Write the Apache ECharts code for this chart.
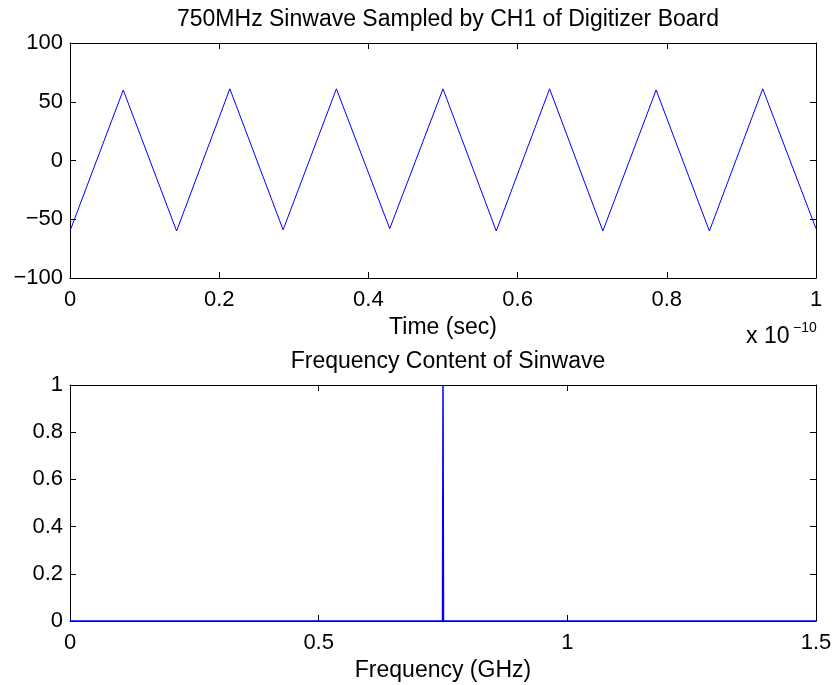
<!DOCTYPE html>
<html>
<head>
<meta charset="utf-8">
<title>750MHz Sinwave</title>
<script src="https://cdn.jsdelivr.net/npm/echarts@6/dist/echarts.min.js"></script>
<style>
    html, body { margin: 0; padding: 0; background: #fff; }
    #main { width: 836px; height: 685px; }
</style>
</head>
<body>
<div id="main"></div>
<script>
// time axis in units of 1e-10 sec
var timeData = [0, 0.0714, 0.1429, 0.2143, 0.2857, 0.3571, 0.4286, 0.5, 0.5714, 0.6429, 0.7143, 0.7857, 0.8571, 0.9286, 1.0];
var sampleData = [-60, 60, -60, 61, -59, 61, -58, 61, -60, 61, -60, 60, -60, 61, -58];
// frequency in GHz, normalized magnitude
var freqData = [0, 0.749, 0.75, 0.751, 1.5];
var magData = [0, 0, 1, 0, 0];

var titles = ['750MHz Sinwave Sampled by CH1 of Digitizer Board', 'Frequency Content of Sinwave'];
var xNames = ['Time (sec)', 'Frequency (GHz)'];

var FONT = '"Liberation Sans", Arial, Helvetica, sans-serif';

function pairs(xs, ys) {
    var out = [];
    for (let i = 0; i < xs.length; i++) {
        out.push([xs[i], ys[i]]);
    }
    return out;
}

function minusFmt(v) {
    return String(v).replace('-', '\u2212');
}

function boxAxis(opt) {
    // matlab style axis: black line, ticks inside, no grid
    var base = {
        type: 'value',
        axisLine: { show: true, onZero: false, lineStyle: { color: '#000', width: 1 } },
        axisTick: { show: true, inside: true, length: 6, lineStyle: { color: '#000', width: 1 } },
        axisLabel: {
            show: true,
            color: '#000',
            fontSize: 22,
            fontFamily: FONT,
            showMinLabel: true,
            showMaxLabel: true,
            hideOverlap: false,
            formatter: minusFmt
        },
        splitLine: { show: false }
    };
    return Object.assign(base, opt);
}

function hiddenLabel() {
    return { show: false };
}

function returnOption() {
    return {
        backgroundColor: '#fff',
        animation: false,
        title: [{
            text: titles[0],
            left: 443,
            top: 3,
            textAlign: 'center',
            textStyle: { color: '#000', fontSize: 23, fontWeight: 'normal', fontFamily: FONT }
        }, {
            text: titles[1],
            left: 443,
            top: 345,
            textAlign: 'center',
            textStyle: { color: '#000', fontSize: 23, fontWeight: 'normal', fontFamily: FONT }
        }],
        grid: [
            { left: 70, right: 20, top: 43, height: 235 },
            { left: 70, right: 20, top: 385, height: 236 }
        ],
        xAxis: [
            boxAxis({
                gridIndex: 0, position: 'bottom', min: 0, max: 1, interval: 0.2,
                name: xNames[0], nameLocation: 'middle', nameGap: 38,
                nameTextStyle: { color: '#000', fontSize: 23, fontFamily: FONT },
                axisLabel: Object.assign(boxAxis({}).axisLabel, { margin: 11 })
            }),
            boxAxis({ gridIndex: 0, position: 'top', min: 0, max: 1, interval: 0.2, axisLabel: hiddenLabel() }),
            boxAxis({
                gridIndex: 1, position: 'bottom', min: 0, max: 1.5, interval: 0.5,
                name: xNames[1], nameLocation: 'middle', nameGap: 38,
                nameTextStyle: { color: '#000', fontSize: 23, fontFamily: FONT },
                axisLabel: Object.assign(boxAxis({}).axisLabel, { margin: 11 })
            }),
            boxAxis({ gridIndex: 1, position: 'top', min: 0, max: 1.5, interval: 0.5, axisLabel: hiddenLabel() })
        ],
        yAxis: [
            boxAxis({
                gridIndex: 0, position: 'left', min: -100, max: 100, interval: 50,
                axisLabel: Object.assign(boxAxis({}).axisLabel, { margin: 7 })
            }),
            boxAxis({ gridIndex: 0, position: 'right', min: -100, max: 100, interval: 50, axisLabel: hiddenLabel() }),
            boxAxis({
                gridIndex: 1, position: 'left', min: 0, max: 1, interval: 0.2,
                axisLabel: Object.assign(boxAxis({}).axisLabel, { margin: 7 })
            }),
            boxAxis({ gridIndex: 1, position: 'right', min: 0, max: 1, interval: 0.2, axisLabel: hiddenLabel() })
        ],
        graphic: [{
            type: 'text',
            left: 746,
            top: 325,
            style: { text: 'x 10', fill: '#000', font: '23px ' + FONT }
        }, {
            type: 'text',
            left: 793,
            top: 321,
            style: { text: '\u221210', fill: '#000', font: '14px ' + FONT }
        }],
        series: [{
            name: 'sample',
            type: 'line',
            xAxisIndex: 0,
            yAxisIndex: 0,
            showSymbol: false,
            lineStyle: { color: '#0000ff', width: 1 },
            data: pairs(timeData, sampleData)
        }, {
            name: 'spectrum',
            type: 'line',
            xAxisIndex: 2,
            yAxisIndex: 2,
            showSymbol: false,
            lineStyle: { color: '#0000ff', width: 1.5 },
            data: pairs(freqData, magData)
        }]
    };
}

var myChart = echarts.init(document.getElementById('main'));
myChart.setOption(returnOption());
</script>
</body>
</html>
